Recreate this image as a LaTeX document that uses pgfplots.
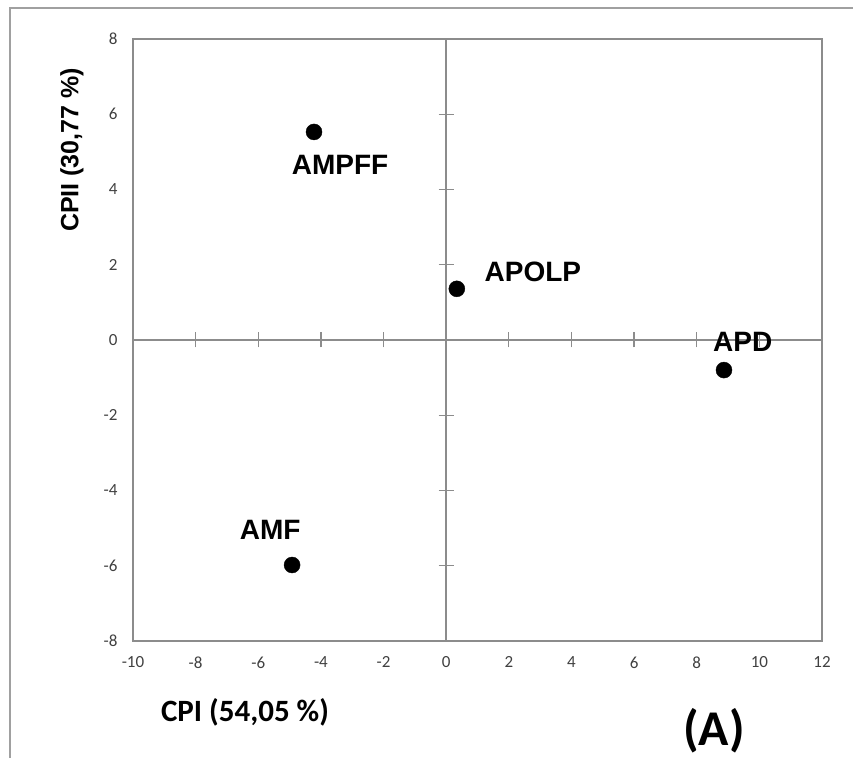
\documentclass[border=0pt]{standalone}
\usepackage{pgfplots}
\pgfplotsset{compat=1.18}
\usepackage{fontspec}
\setmainfont{Carlito}
\newfontfamily\arial{Liberation Sans}
\definecolor{axisgray}{HTML}{8C8C8C}
\definecolor{framegray}{HTML}{A0A0A0}
\definecolor{tickgray}{HTML}{404040}
\begin{document}
\begin{tikzpicture}
\useasboundingbox (-133pt,-117pt) rectangle (720pt,641pt);
\draw[framegray, line width=2pt] (-123pt,-117pt) -- (-123pt,633pt) -- (720pt,633pt);
% central axes with cross ticks
\begin{axis}[scale only axis, width=689pt, height=602pt,
  xmin=-10, xmax=12, ymin=-8, ymax=8,
  axis lines=middle, axis line style={-, draw=axisgray, line width=1.5pt},
  xtick={-8,-6,-4,-2,2,4,6,8,10}, ytick={-6,-4,-2,2,4,6},
  xticklabels={}, yticklabels={},
  tick align=center, major tick length=15pt,
  tick style={draw=axisgray, line width=1.2pt}]
\end{axis}
% box axis with data
\begin{axis}[scale only axis, width=689pt, height=602pt,
  xmin=-10, xmax=12, ymin=-8, ymax=8,
  xtick={-10,-8,...,12}, ytick={-8,-6,...,8},
  major tick length=0pt,
  axis line style={draw=axisgray, line width=1.5pt},
  tick label style={font=\fontsize{17}{17}\selectfont, text=tickgray},
  /pgf/number format/assume math mode=true,
  xticklabel style={yshift=-12pt},
  yticklabel style={xshift=-12pt},
  clip=false]
\addplot[only marks, mark=*, mark size=8pt, black] coordinates {
  (-4.22,5.53) (0.34,1.36) (8.87,-0.80) (-4.92,-5.98)};
\node[font=\arial\bfseries\fontsize{28}{28}\selectfont] at (axis cs:-3.39,4.65) {AMPFF};
\node[font=\arial\bfseries\fontsize{28}{28}\selectfont] at (axis cs:2.77,1.81) {APOLP};
\node[font=\arial\bfseries\fontsize{28}{28}\selectfont] at (axis cs:9.47,-0.05) {APD};
\node[font=\arial\bfseries\fontsize{28}{28}\selectfont] at (axis cs:-5.62,-5.05) {AMF};
\end{axis}
\node[rotate=90, font=\arial\bfseries\fontsize{25}{25}\selectfont] at (-61pt,491pt) {CPII (30,77 \%)};
\node[font=\bfseries\fontsize{31}{31}\selectfont] at (112pt,-71pt) {CPI (54,05 \%)};
\node[font=\bfseries\fontsize{50}{50}\selectfont, anchor=base, inner sep=0pt] at (581pt,-104pt) {(A)};
\end{tikzpicture}
\end{document}
